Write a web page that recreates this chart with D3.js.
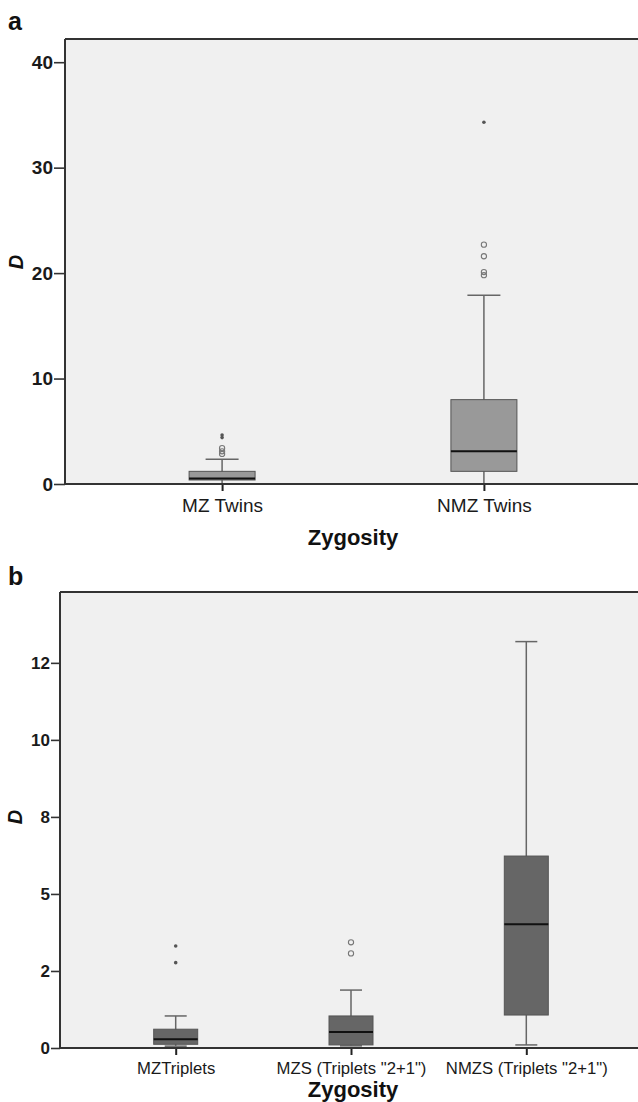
<!DOCTYPE html>
<html>
<head>
<meta charset="utf-8">
<title>D by zygosity</title>
<script src="https://cdn.jsdelivr.net/npm/d3@7/dist/d3.min.js"></script>
<style>
  body { margin: 0; background: #fff; }
  svg { display: block; }
  svg text { font-family: "Liberation Sans", Arial, sans-serif; }
</style>
</head>
<body>
<svg id="chart"></svg>
<script>
// panel a : twins
var catsA = ["MZ Twins", "NMZ Twins"];
// [lower whisker, q1, median, q3, upper whisker]
var boxA = [[0, 0.38, 0.52, 1.2, 2.35], [0, 1.2, 3.1, 8.0, 17.9]];
var circA = [[2.85, 3.1, 3.4], [19.8, 20.1, 21.6, 22.7]];
var starA = [[4.4, 4.65], [34.3]];
var ticksA = [0, 10, 20, 30, 40];
var tickLabelsA = ["0", "10", "20", "30", "40"];

// panel b : triplets
var catsB = ["MZTriplets", "MZS (Triplets \"2+1\")", "NMZS (Triplets \"2+1\")"];
var boxB = [[0.06, 0.12, 0.28, 0.61, 1.04], [0.07, 0.1, 0.52, 1.04, 1.88], [0.1, 1.07, 4.02, 6.23, 13.19]];
var circB = [[], [3.07, 3.43], []];
var starB = [[2.77, 3.31], [], []];
var ticksB = [0, 2.5, 5, 7.5, 10, 12.5];
var tickLabelsB = ["0", "2", "5", "8", "10", "12"];

var W = 638, H = 1102;
var FONT = "'Liberation Sans', Arial, sans-serif";
var svg = d3.select("#chart").attr("width", W).attr("height", H);

function panel(o) {
  var g = svg.append("g");
  var y = d3.scaleLinear().domain(o.ydom).range([o.bottom, o.top]);
  var x = d3.scalePoint().domain(o.cats).range([o.left, W + o.extra]).padding(o.pad);

  g.append("rect")
    .attr("x", o.left).attr("y", o.top)
    .attr("width", W - o.left).attr("height", o.bottom - o.top)
    .attr("fill", "#f0f0f0");

  // y axis
  var yAxis = d3.axisLeft(y).tickValues(o.ticks).tickSize(o.tickLen).tickPadding(1)
    .tickFormat(function(d, i) { return o.tickLabels[i]; });
  var ya = g.append("g").attr("transform", "translate(" + o.left + ",0)").call(yAxis)
    .attr("font-family", FONT);
  ya.select(".domain").remove();
  ya.selectAll("line").attr("stroke", "#333").attr("stroke-width", 1.6);
  ya.selectAll("text").attr("fill", "#1a1a1a").style("font-size", o.tickFont + "px")
    .style("font-weight", "bold");

  // x axis ticks
  var xAxis = d3.axisBottom(x).tickSize(7).tickPadding(o.xPad);
  var xa = g.append("g").attr("transform", "translate(0," + o.bottom + ")").call(xAxis)
    .attr("font-family", FONT);
  xa.select(".domain").remove();
  xa.selectAll("line").attr("stroke", "#222").attr("stroke-width", 2);
  xa.selectAll("text").attr("fill", "#1a1a1a").style("font-size", o.catFont + "px");

  // boxes
  o.cats.forEach(function(c, i) {
    var s = o.box[i], cx = x(c);
    var bw = o.boxW, cw = o.boxW / 2;
    g.append("line").attr("x1", cx).attr("x2", cx).attr("y1", y(s[0])).attr("y2", y(s[4]))
      .attr("stroke", "#666").attr("stroke-width", 1.5);
    [s[0], s[4]].forEach(function(v) {
      g.append("line").attr("x1", cx - cw / 2).attr("x2", cx + cw / 2)
        .attr("y1", y(v)).attr("y2", y(v))
        .attr("stroke", "#666").attr("stroke-width", 1.5);
    });
    g.append("rect").attr("x", cx - bw / 2).attr("y", y(s[3]))
      .attr("width", bw).attr("height", y(s[1]) - y(s[3]))
      .attr("fill", o.fill).attr("stroke", "#555").attr("stroke-width", 1);
    g.append("line").attr("x1", cx - bw / 2).attr("x2", cx + bw / 2)
      .attr("y1", y(s[2])).attr("y2", y(s[2]))
      .attr("stroke", "#111").attr("stroke-width", 2);
    o.circ[i].forEach(function(v) {
      g.append("circle").attr("cx", cx).attr("cy", y(v)).attr("r", 2.6)
        .attr("fill", "none").attr("stroke", "#777").attr("stroke-width", 1.1);
    });
    o.star[i].forEach(function(v) {
      g.append("circle").attr("cx", cx).attr("cy", y(v)).attr("r", 1.8).attr("fill", "#555");
    });
  });

  // frame lines: left, top, bottom
  g.append("line").attr("x1", o.left).attr("x2", o.left).attr("y1", o.top).attr("y2", o.bottom)
    .attr("stroke", "#333").attr("stroke-width", 2);
  g.append("line").attr("x1", o.left).attr("x2", W).attr("y1", o.top).attr("y2", o.top)
    .attr("stroke", "#333").attr("stroke-width", 2);
  g.append("line").attr("x1", o.left - 1).attr("x2", W).attr("y1", o.bottom).attr("y2", o.bottom)
    .attr("stroke", "#333").attr("stroke-width", 2);

  // titles
  g.append("text").attr("x", 8).attr("y", o.letterY).text(o.letter)
    .style("font-size", "25px").style("font-weight", "bold").attr("fill", "#111");
  g.append("text").attr("transform", "translate(" + o.dX + "," + o.dY + ") rotate(-90)")
    .attr("text-anchor", "middle").text("D")
    .style("font-size", "20px").style("font-weight", "bold").style("font-style", "italic")
    .attr("fill", "#111");
  g.append("text").attr("x", 353).attr("y", o.titleY).attr("text-anchor", "middle")
    .text("Zygosity").style("font-size", "22px").style("font-weight", "bold").attr("fill", "#111");
}

panel({
  cats: catsA, box: boxA, circ: circA, star: starA,
  ticks: ticksA, tickLabels: tickLabelsA, ydom: [0, 42.2],
  left: 65, top: 39, bottom: 484, pad: 0.6, extra: 3, boxW: 66,
  fill: "#999", tickFont: 19, tickLen: 11, catFont: 19, xPad: 8,
  letter: "a", letterY: 30, dX: 23, dY: 262, titleY: 545
});

panel({
  cats: catsB, box: boxB, circ: circB, star: starB,
  ticks: ticksB, tickLabels: tickLabelsB, ydom: [0, 14.8],
  left: 60, top: 592, bottom: 1048, pad: 0.66, extra: 4, boxW: 44,
  fill: "#666", tickFont: 17, tickLen: 9, catFont: 16.7, xPad: 7,
  letter: "b", letterY: 585, dX: 22, dY: 817, titleY: 1097
});
</script>
</body>
</html>
